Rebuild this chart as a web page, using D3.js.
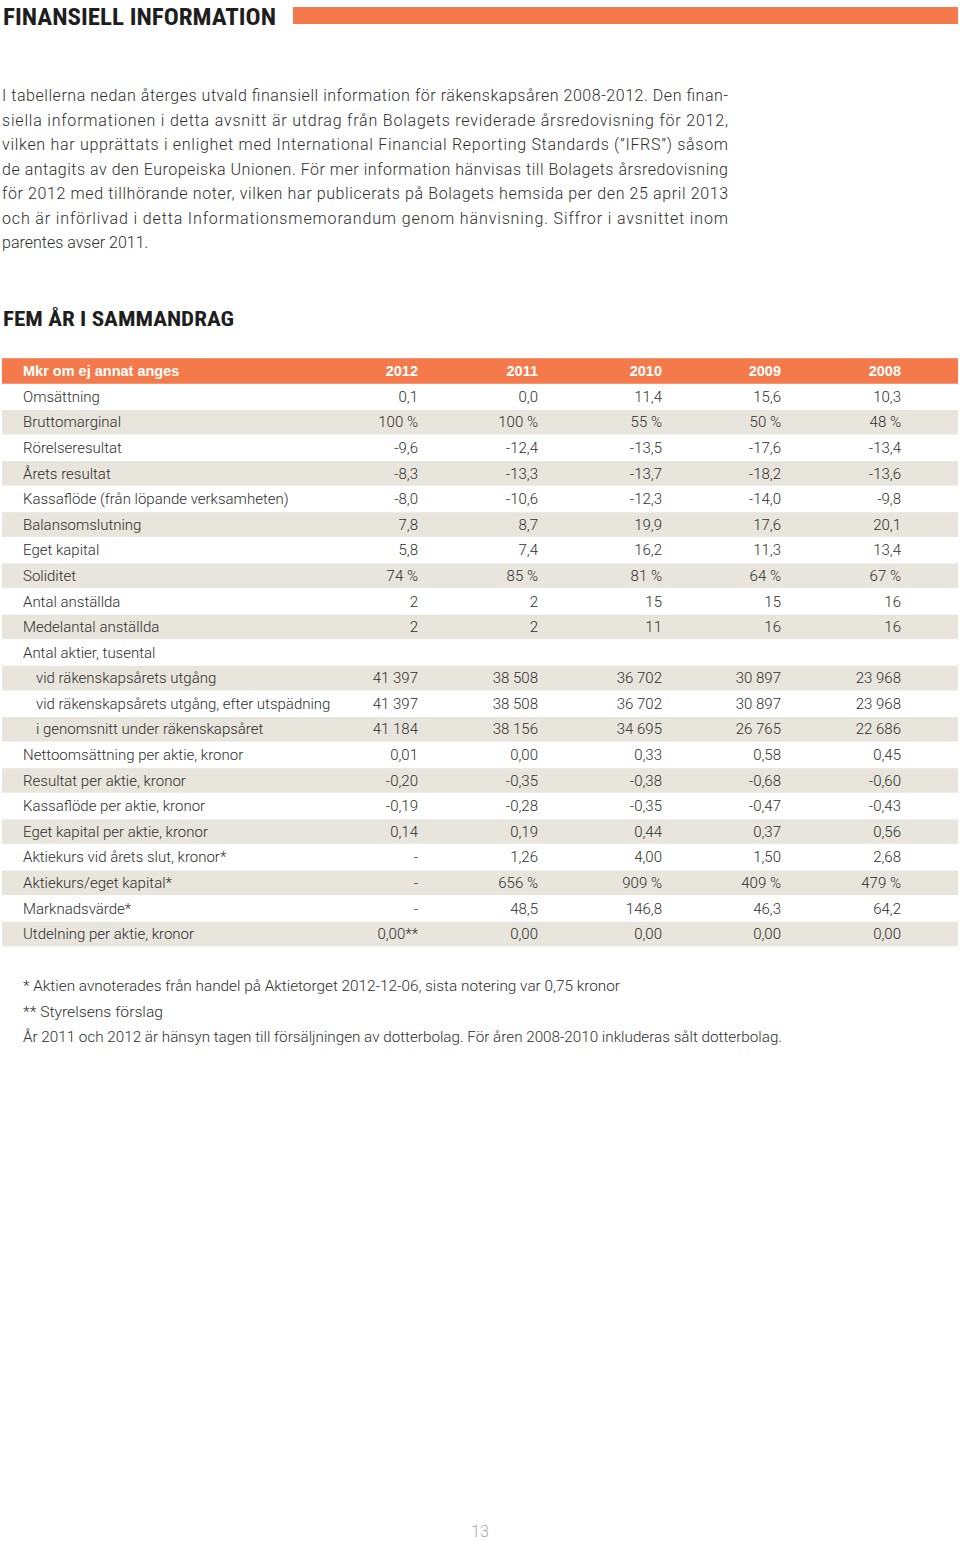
<!DOCTYPE html>
<html>
<head>
<meta charset="utf-8">
<script src="https://cdn.jsdelivr.net/npm/d3@7"></script>
<style>
  html, body { margin: 0; padding: 0; background: #fff; }
  svg { display: block; }
</style>
</head>
<body>
<div id="chart"></div>
<script>
// ---- DATA ----
const years = ["2012", "2011", "2010", "2009", "2008"];
const headerLabel = "Mkr om ej annat anges";
const rowLabels = [
  "Omsättning",
  "Bruttomarginal",
  "Rörelseresultat",
  "Årets resultat",
  "Kassaflöde (från löpande verksamheten)",
  "Balansomslutning",
  "Eget kapital",
  "Soliditet",
  "Antal anställda",
  "Medelantal anställda",
  "Antal aktier, tusental",
  "vid räkenskapsårets utgång",
  "vid räkenskapsårets utgång, efter utspädning",
  "i genomsnitt under räkenskapsåret",
  "Nettoomsättning per aktie, kronor",
  "Resultat per aktie, kronor",
  "Kassaflöde per aktie, kronor",
  "Eget kapital per aktie, kronor",
  "Aktiekurs vid årets slut, kronor*",
  "Aktiekurs/eget kapital*",
  "Marknadsvärde*",
  "Utdelning per aktie, kronor"
];
const rowIndent = [0,0,0,0,0,0,0,0,0,0,0,1,1,1,0,0,0,0,0,0,0,0];
const values2012 = ["0,1","100 %","-9,6","-8,3","-8,0","7,8","5,8","74 %","2","2","","41 397","41 397","41 184","0,01","-0,20","-0,19","0,14","-","-","-","0,00**"];
const values2011 = ["0,0","100 %","-12,4","-13,3","-10,6","8,7","7,4","85 %","2","2","","38 508","38 508","38 156","0,00","-0,35","-0,28","0,19","1,26","656 %","48,5","0,00"];
const values2010 = ["11,4","55 %","-13,5","-13,7","-12,3","19,9","16,2","81 %","15","11","","36 702","36 702","34 695","0,33","-0,38","-0,35","0,44","4,00","909 %","146,8","0,00"];
const values2009 = ["15,6","50 %","-17,6","-18,2","-14,0","17,6","11,3","64 %","15","16","","30 897","30 897","26 765","0,58","-0,68","-0,47","0,37","1,50","409 %","46,3","0,00"];
const values2008 = ["10,3","48 %","-13,4","-13,6","-9,8","20,1","13,4","67 %","16","16","","23 968","23 968","22 686","0,45","-0,60","-0,43","0,56","2,68","479 %","64,2","0,00"];

const pageTitle = "FINANSIELL INFORMATION";
const sectionTitle = "FEM ÅR I SAMMANDRAG";
const introLines = [
  "I tabellerna nedan återges utvald finansiell information för räkenskapsåren 2008-2012. Den finan-",
  "siella informationen i detta avsnitt är utdrag från Bolagets reviderade årsredovisning för 2012,",
  "vilken har upprättats i enlighet med International Financial Reporting Standards (”IFRS”) såsom",
  "de antagits av den Europeiska Unionen. För mer information hänvisas till Bolagets årsredovisning",
  "för 2012 med tillhörande noter, vilken har publicerats på Bolagets hemsida per den 25 april 2013",
  "och är införlivad i detta Informationsmemorandum genom hänvisning. Siffror i avsnittet inom",
  "parentes avser 2011."
];
const footnotes = [
  "* Aktien avnoterades från handel på Aktietorget 2012-12-06, sista notering var 0,75 kronor",
  "** Styrelsens förslag",
  "År 2011 och 2012 är hänsyn tagen till försäljningen av dotterbolag.  För åren 2008-2010 inkluderas sålt dotterbolag."
];
const pageNumber = "13";

// ---- DRAW ----
const W = 960, H = 1541;
const orange = "#f47a4c";
const beige = "#e8e5dc";
const textCol = "#2e2e2e";
const bodyFont = "Roboto, 'Liberation Sans', Arial, sans-serif";
const condFont = "'Roboto Condensed', 'Liberation Sans Narrow', 'DejaVu Sans Condensed', 'Liberation Sans', sans-serif";

const svg = d3.select("#chart").append("svg")
  .attr("width", W).attr("height", H);

svg.append("rect").attr("width", W).attr("height", H).attr("fill", "#fff");

// Page title
svg.append("text")
  .attr("x", 3).attr("y", 25)
  .attr("font-family", condFont)
  .attr("font-weight", 700)
  .attr("font-size", 24)
  .attr("fill", "#1e1e1e")
  .attr("textLength", 273)
  .attr("lengthAdjust", "spacingAndGlyphs")
  .text(pageTitle);

svg.append("rect")
  .attr("x", 293).attr("y", 7).attr("width", 665).attr("height", 17)
  .attr("fill", orange);

// Intro paragraph
const introY = d3.scaleLinear().domain([0, introLines.length - 1]).range([101, 248]);
svg.append("g").selectAll("text")
  .data(introLines)
  .join("text")
  .attr("x", 2)
  .attr("y", (d, i) => introY(i))
  .attr("font-family", bodyFont)
  .attr("font-weight", 300)
  .attr("font-size", 16)
  .attr("fill", textCol)
  .each(function (d, i) {
    if (i < introLines.length - 1) {
      d3.select(this).attr("textLength", 726).attr("lengthAdjust", "spacing");
    }
  })
  .text(d => d);

// Section title
svg.append("text")
  .attr("x", 3).attr("y", 326)
  .attr("font-family", condFont)
  .attr("font-weight", 700)
  .attr("font-size", 20)
  .attr("fill", "#1e1e1e")
  .attr("textLength", 231)
  .attr("lengthAdjust", "spacingAndGlyphs")
  .text(sectionTitle);

// Table
const tableTop = 358.2;
const rowH = 25.59;
const nRows = rowLabels.length + 1;
const y = d3.scaleBand()
  .domain(d3.range(nRows))
  .range([tableTop, tableTop + rowH * nRows])
  .paddingInner(0);

const x = d3.scaleOrdinal()
  .domain(years)
  .range([418, 538, 662, 781, 901]);

const columns = [values2012, values2011, values2010, values2009, values2008];

// Header row
svg.append("rect")
  .attr("x", 2).attr("y", y(0))
  .attr("width", 956).attr("height", y.bandwidth())
  .attr("fill", orange);

const header = svg.append("g")
  .attr("font-family", "'Liberation Sans', Arial, sans-serif")
  .attr("font-weight", 700)
  .attr("font-size", 14.5)
  .attr("fill", "#fff");

header.append("text")
  .attr("x", 23).attr("y", y(0) + y.bandwidth() / 2)
  .attr("dy", "0.35em")
  .text(headerLabel);

header.selectAll("text.yr")
  .data(years)
  .join("text")
  .attr("class", "yr")
  .attr("x", d => x(d))
  .attr("y", y(0) + y.bandwidth() / 2)
  .attr("dy", "0.35em")
  .attr("text-anchor", "end")
  .text(d => d);

// Body rows
const rows = svg.append("g").selectAll("g.row")
  .data(rowLabels.map((label, i) => ({
    label, i, indent: rowIndent[i],
    vals: years.map((yr, j) => ({ yr, v: columns[j][i] }))
  })))
  .join("g")
  .attr("class", "row")
  .attr("transform", d => `translate(0,${y(d.i + 1)})`);

rows.filter(d => d.i % 2 === 1)
  .append("rect")
  .attr("x", 2).attr("y", 0.5)
  .attr("width", 956).attr("height", y.bandwidth() - 1)
  .attr("fill", beige);

rows.append("text")
  .attr("x", d => d.indent ? 36 : 23)
  .attr("y", y.bandwidth() / 2)
  .attr("dy", "0.35em")
  .attr("font-family", bodyFont)
  .attr("font-weight", 300)
  .attr("font-size", 15)
  .attr("fill", textCol)
  .text(d => d.label);

rows.selectAll("text.val")
  .data(d => d.vals)
  .join("text")
  .attr("class", "val")
  .attr("x", d => x(d.yr))
  .attr("y", y.bandwidth() / 2)
  .attr("dy", "0.35em")
  .attr("text-anchor", "end")
  .attr("font-family", bodyFont)
  .attr("font-weight", 300)
  .attr("font-size", 15)
  .attr("fill", textCol)
  .text(d => d.v);

// Footnotes
const footY = d3.scaleLinear().domain([0, footnotes.length - 1]).range([991, 1042]);
const footLen = [597, 140, 759];
svg.append("g").selectAll("text")
  .data(footnotes)
  .join("text")
  .attr("x", 23)
  .attr("y", (d, i) => footY(i))
  .attr("font-family", bodyFont)
  .attr("font-weight", 300)
  .attr("font-size", 15)
  .attr("fill", textCol)
  .attr("textLength", (d, i) => footLen[i])
  .attr("lengthAdjust", "spacingAndGlyphs")
  .text(d => d);

// Page number
svg.append("text")
  .attr("x", 480).attr("y", 1537)
  .attr("text-anchor", "middle")
  .attr("font-family", bodyFont)
  .attr("font-weight", 300)
  .attr("font-size", 16)
  .attr("fill", "#a8a8a8")
  .text(pageNumber);
</script>
</body>
</html>
